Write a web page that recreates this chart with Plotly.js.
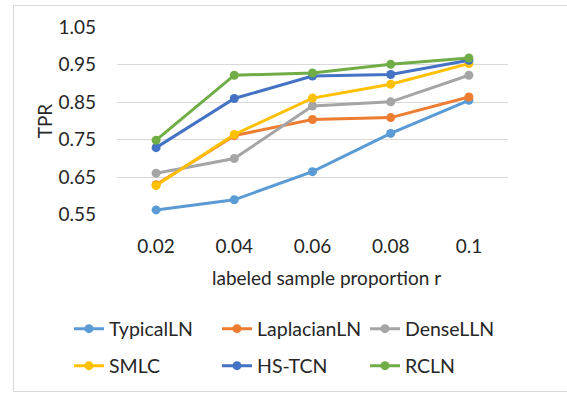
<!DOCTYPE html>
<html>
<head>
<meta charset="utf-8">
<script src="https://cdn.plot.ly/plotly-3.0.1.min.js"></script>
<style>
html,body{margin:0;padding:0;background:#fff;}
#wrap{position:relative;width:567px;height:394px;}
#chart{width:567px;height:394px;}
#frame{position:absolute;left:13px;top:5px;width:560px;height:385px;border:1px solid #d9d9d9;pointer-events:none;}
</style>
</head>
<body>
<div id="wrap"><div id="chart"></div><div id="frame"></div></div>
<script>
var categories = ['0.02', '0.04', '0.06', '0.08', '0.1'];
var seriesNames = ['TypicalLN', 'LaplacianLN', 'DenseLLN', 'SMLC', 'HS-TCN', 'RCLN'];
var typicalLN   = [0.563, 0.590, 0.665, 0.767, 0.855];
var laplacianLN = [0.630, 0.761, 0.804, 0.809, 0.864];
var denseLLN    = [0.661, 0.700, 0.840, 0.851, 0.922];
var smlc        = [0.628, 0.764, 0.861, 0.898, 0.953];
var hsTCN       = [0.729, 0.860, 0.920, 0.924, 0.962];
var rcln        = [0.749, 0.922, 0.928, 0.951, 0.968];
var yTicks = [0.55, 0.65, 0.75, 0.85, 0.95, 1.05];
var xTitle = 'labeled sample proportion r';
var yTitle = 'TPR';

var values = [typicalLN, laplacianLN, denseLLN, smlc, hsTCN, rcln];
var colors = ['#5B9BD5', '#ED7D31', '#A5A5A5', '#FFC000', '#4472C4', '#70AD47'];
var FONT = 'Lato, "Open Sans", sans-serif';

var traces = values.map(function (v, i) {
  return {
    type: 'scatter', mode: 'lines+markers',
    x: categories, y: v, name: seriesNames[i],
    line: {color: colors[i], width: 3},
    marker: {color: colors[i], size: 9},
    legend: i < 3 ? 'legend' : 'legend2'
  };
});

var legendCommon = {
  orientation: 'h', xanchor: 'left', yanchor: 'middle',
  entrywidth: 103, entrywidthmode: 'pixels',
  font: {family: FONT, size: 19.5, color: '#262626'},
  bgcolor: 'rgba(0,0,0,0)', itemclick: false, traceorder: 'normal'
};

var layout = {
  width: 567, height: 394,
  margin: {l: 117, r: 59, t: 27, b: 179, autoexpand: false},
  paper_bgcolor: '#fff', plot_bgcolor: '#fff',
  font: {family: FONT, color: '#262626'},
  showlegend: true,
  xaxis: {
    type: 'category', range: [-0.5, 4.5], showgrid: false, zeroline: false, showline: false,
    ticks: '', tickfont: {family: FONT, size: 19, color: '#262626'},
    ticklabelstandoff: 18, automargin: false
  },
  yaxis: {
    range: [0.5495, 1.0505], tickvals: yTicks, ticktext: yTicks.map(function (t) { return t.toFixed(2); }),
    showgrid: true, gridcolor: '#d9d9d9', gridwidth: 1, zeroline: false, showline: false,
    ticks: '', tickfont: {family: FONT, size: 19, color: '#262626'},
    ticklabelstandoff: 20, automargin: false,
    title: {text: yTitle, font: {family: FONT, size: 19, color: '#262626'}, standoff: 0}
  },
  annotations: [{
    text: xTitle, xref: 'paper', yref: 'paper',
    x: (326 - 117) / 391, y: -(277 - 215) / 188, xanchor: 'center', yanchor: 'middle',
    showarrow: false, font: {family: FONT, size: 19, color: '#262626'}
  }],
  legend: Object.assign({}, legendCommon, {x: (69 - 117) / 391, y: -(329 - 215) / 188}),
  legend2: Object.assign({}, legendCommon, {x: (69 - 117) / 391, y: -(366 - 215) / 188})
};

Plotly.newPlot('chart', traces, layout, {displayModeBar: false, staticPlot: true});
</script>
</body>
</html>
